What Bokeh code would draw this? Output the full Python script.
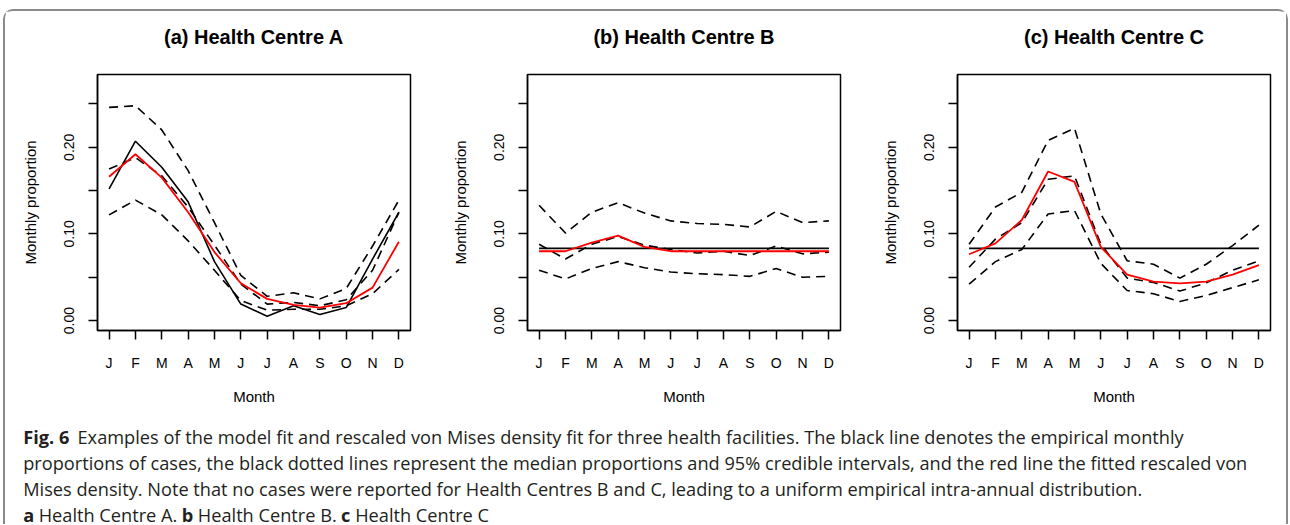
from bokeh.plotting import figure
from bokeh.layouts import column, row
from bokeh.models import Range1d, FixedTicker, Title
from bokeh.core.properties import value
from bokeh.embed import file_html
from bokeh.resources import INLINE

months = ["J", "F", "M", "A", "M", "J", "J", "A", "S", "O", "N", "D"]
month_idx = list(range(1, 13))
y_ticks = [0.0, 0.05, 0.10, 0.15, 0.20, 0.25]
y_tick_labels = ["0.00", "", "0.10", "", "0.20", ""]

titles = ["(a) Health Centre A", "(b) Health Centre B", "(c) Health Centre C"]

# Health Centre A
a_empirical = [0.152, 0.207, 0.177, 0.137, 0.068, 0.019, 0.005, 0.017, 0.007, 0.015, 0.071, 0.125]
a_fit = [0.166, 0.192, 0.165, 0.125, 0.079, 0.043, 0.025, 0.018, 0.015, 0.020, 0.038, 0.091]
a_upper = [0.246, 0.248, 0.220, 0.173, 0.113, 0.052, 0.028, 0.032, 0.025, 0.037, 0.086, 0.139]
a_median = [0.175, 0.188, 0.167, 0.131, 0.087, 0.042, 0.019, 0.021, 0.017, 0.024, 0.058, 0.125]
a_lower = [0.122, 0.139, 0.122, 0.092, 0.058, 0.023, 0.012, 0.013, 0.013, 0.017, 0.031, 0.059]

# Health Centre B
b_empirical = [1 / 12] * 12
b_fit = [0.080, 0.080, 0.090, 0.098, 0.085, 0.080, 0.080, 0.080, 0.080, 0.080, 0.080, 0.080]
b_upper = [0.133, 0.101, 0.125, 0.136, 0.124, 0.115, 0.112, 0.111, 0.108, 0.126, 0.113, 0.115]
b_median = [0.088, 0.071, 0.088, 0.097, 0.087, 0.082, 0.078, 0.080, 0.075, 0.086, 0.077, 0.079]
b_lower = [0.058, 0.048, 0.060, 0.068, 0.061, 0.056, 0.054, 0.053, 0.051, 0.060, 0.050, 0.051]

# Health Centre C
c_empirical = [1 / 12] * 12
c_fit = [0.0765, 0.089, 0.116, 0.172, 0.160, 0.085, 0.053, 0.045, 0.043, 0.045, 0.053, 0.064]
c_upper = [0.088, 0.131, 0.148, 0.208, 0.222, 0.123, 0.069, 0.065, 0.049, 0.065, 0.0865, 0.110]
c_median = [0.0615, 0.094, 0.113, 0.163, 0.167, 0.088, 0.049, 0.044, 0.034, 0.0435, 0.058, 0.069]
c_lower = [0.042, 0.068, 0.082, 0.123, 0.127, 0.066, 0.0346, 0.031, 0.022, 0.029, 0.038, 0.047]

caption_label = "Fig. 6"
caption_line1 = "Examples of the model fit and rescaled von Mises density fit for three health facilities. The black line denotes the empirical monthly"
caption_line2 = "proportions of cases, the black dotted lines represent the median proportions and 95% credible intervals, and the red line the fitted rescaled von"
caption_line3 = "Mises density. Note that no cases were reported for Health Centres B and C, leading to a uniform empirical intra-annual distribution."
caption_sub_letters = ["a", "b", "c"]
caption_sub_texts = ["Health Centre A.", "Health Centre B.", "Health Centre C"]

AX_FONT = "Liberation Sans"
DASH = "9 6"


def panel(title, emp, fit, upper, median, lower, width, left_border, right_border):
    p = figure(width=width, height=397, output_backend="svg", toolbar_location=None,
               x_range=Range1d(0.56, 12.44), y_range=Range1d(-0.0115, 0.284),
               min_border_left=left_border, min_border_right=right_border,
               min_border_top=63, min_border_bottom=78)
    # blank spacer next to the frame, then the title further out
    p.add_layout(Title(text="\u00a0", text_font_size="12px", standoff=6,
                       text_color="white"), "above")
    p.add_layout(Title(text=title, align="center", text_font=AX_FONT, text_font_size="20px",
                       text_font_style="bold", text_color="black", standoff=10), "above")
    p.grid.visible = False
    p.outline_line_color = "black"
    p.outline_line_width = 1.5
    p.outline_line_alpha = 1.0
    p.background_fill_color = "white"
    p.border_fill_color = "white"

    for ln in (upper, median, lower):
        p.line(month_idx, ln, line_color="black", line_width=1.6, line_dash=DASH)
    p.line(month_idx, emp, line_color="black", line_width=1.6)
    p.line(month_idx, fit, line_color="#ff0000", line_width=1.8)

    xa = p.xaxis[0]
    xa.ticker = FixedTicker(ticks=month_idx)
    xa.major_label_overrides = {i: m for i, m in zip(month_idx, months)}
    xa.axis_label = "Month"
    ya = p.yaxis[0]
    ya.ticker = FixedTicker(ticks=y_ticks)
    ya.major_label_overrides = {t: l for t, l in zip(y_ticks, y_tick_labels)}
    ya.axis_label = "Monthly proportion"
    ya.major_label_orientation = "vertical"
    for ax in (xa, ya):
        ax.minor_tick_line_color = None
        ax.major_tick_out = 9
        ax.major_tick_in = 0
        ax.major_tick_line_color = "black"
        ax.major_tick_line_width = 1.5
        ax.axis_line_color = "black"
        ax.axis_line_width = 1.5
        ax.major_label_text_font = AX_FONT
        ax.major_label_text_font_size = "14px"
        ax.major_label_text_color = "black"
        ax.axis_label_text_font = AX_FONT
        ax.axis_label_text_font_size = "15px"
        ax.axis_label_text_font_style = "normal"
        ax.axis_label_text_color = "black"
    xa.major_label_standoff = 15
    xa.axis_label_standoff = 14
    ya.major_label_standoff = 14
    ya.axis_label_standoff = 23
    return p


pa = panel(titles[0], a_empirical, a_fit, a_upper, a_median, a_lower, 435, 92, 30)
pb = panel(titles[1], b_empirical, b_fit, b_upper, b_median, b_lower, 430, 87, 30)
pc = panel(titles[2], c_empirical, c_fit, c_upper, c_median, c_lower, 416, 87, 16)

# ---------------- caption ----------------
CAP_W, CAP_H = 1281, 116
OX = 5   # caption canvas x offset on the page
OY = 408  # caption canvas y offset on the page
cap = figure(width=CAP_W, height=CAP_H, output_backend="svg", toolbar_location=None,
             x_range=Range1d(0, CAP_W), y_range=Range1d(CAP_H, 0),
             min_border=0, min_border_left=0, min_border_right=0,
             min_border_top=0, min_border_bottom=0)
cap.axis.visible = False
cap.grid.visible = False
cap.outline_line_color = None
cap.background_fill_color = "white"
cap.border_fill_color = "white"

CAP_FONT = value("Open Sans")
CAP_PX = 18.2
CAP_SIZE = "18.2px"
CAP_COLOR = "#231f20"

# approximate Open Sans advance widths (1/1000 em), used to chain the last line's pieces
OS_W = {" ": 260, "a": 556, "b": 613, "c": 480, "d": 613, "e": 561, "f": 336, "g": 546,
        "h": 613, "i": 253, "j": 253, "k": 525, "l": 253, "m": 930, "n": 613, "o": 604,
        "p": 613, "q": 613, "r": 399, "s": 479, "t": 346, "u": 613, "v": 500, "w": 775,
        "x": 522, "y": 500, "z": 467, "A": 633, "B": 647, "C": 631, "D": 729, "E": 556,
        "F": 516, "G": 728, "H": 738, "M": 907, "N": 764, "O": 779, "T": 556, ".": 266,
        ",": 245, "%": 823, "-": 322}
OS_BOLD_W = {"a": 590, "b": 627, "c": 514}


def tw(s):
    return sum(OS_W.get(ch, 571) for ch in s) / 1000.0 * CAP_PX


SP = tw(" ")
X0 = 22.7 - OX
BASELINES = [436 - OY, 462 - OY, 488 - OY, 514 - OY]

# last line: bold letter + regular text, chained with single spaces
sub_bold_x, sub_reg_x = [], []
pos = X0
for letter, txt in zip(caption_sub_letters, caption_sub_texts):
    sub_bold_x.append(pos)
    pos += OS_BOLD_W[letter] / 1000.0 * CAP_PX + SP
    sub_reg_x.append(pos)
    pos += tw(txt) + SP

reg_text = [caption_line1, caption_line2, caption_line3] + caption_sub_texts
reg_x = [77 - OX, X0, X0] + sub_reg_x
reg_y = BASELINES[:3] + [BASELINES[3]] * 3
cap.text(x=reg_x, y=reg_y, text=reg_text, text_font=CAP_FONT, text_font_size=CAP_SIZE,
         text_font_style="normal", text_color=CAP_COLOR, text_baseline="alphabetic",
         text_align="left")

bold_text = [caption_label] + caption_sub_letters
bold_x = [X0] + sub_bold_x
bold_y = [BASELINES[0]] + [BASELINES[3]] * 3
cap.text(x=bold_x, y=bold_y, text=bold_text, text_font=CAP_FONT, text_font_size=CAP_SIZE,
         text_font_style="bold", text_color=CAP_COLOR, text_baseline="alphabetic",
         text_align="left")

layout = column(row(pa, pb, pc), cap,
                styles={"margin-top": "9px", "margin-left": "3px",
                        "border-top": "2px solid #8a8a8a", "border-left": "2px solid #8a8a8a",
                        "border-right": "2px solid #8a8a8a",
                        "border-top-left-radius": "10px", "border-top-right-radius": "10px"})

open("out.html", "w").write(file_html(layout, INLINE))
